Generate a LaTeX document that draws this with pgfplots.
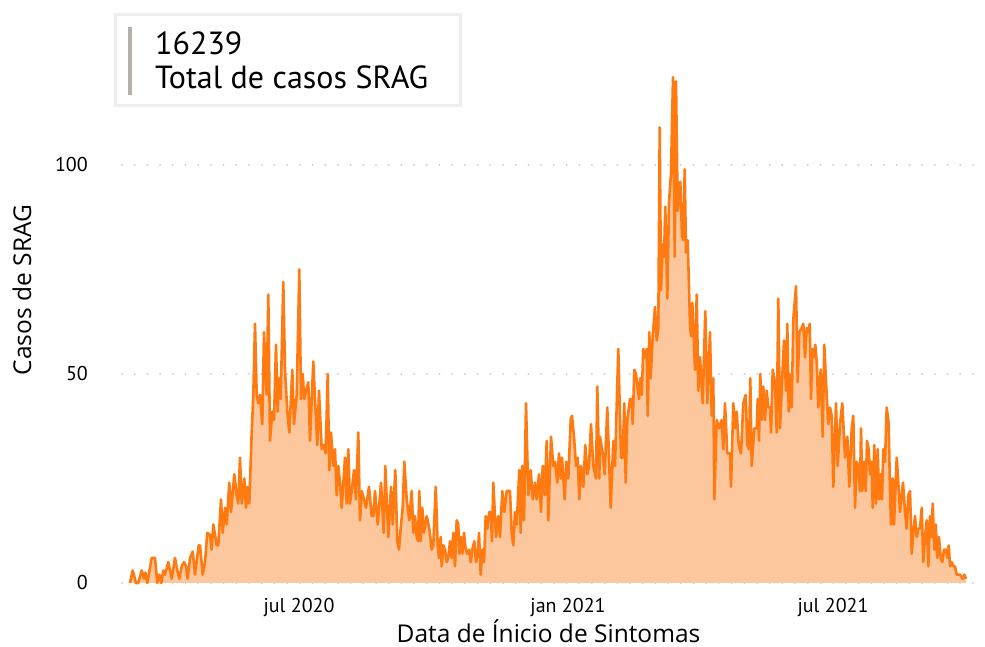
\documentclass[border=0pt]{standalone}
\usepackage{fontspec}
\setmainfont{PT Sans}
\newfontfamily\labelfont{Open Sans}
\usepackage{pgfplots}
\pgfplotsset{compat=1.18}
\usepackage{pgfplotstable}
\definecolor{lineC}{RGB}{255,122,16}
\definecolor{fillC}{RGB}{253,199,158}
\definecolor{gridC}{RGB}{200,200,200}
\definecolor{barC}{RGB}{181,176,171}
\definecolor{boxC}{RGB}{238,238,238}

% x = horizontal position (jul 2020 = 299, jan 2021 = 568, jul 2021 = 833), y = daily cases
\pgfplotstableread{
x y
130.0 0
132.7 3
136.0 0
138.3 0
141.7 3
144.0 1
145.3 2.5
147.3 0
151.7 6
155.0 6
157.3 0
159.3 2
161.3 0
163.3 3
165.0 2
168.3 5
171.7 1
175.0 6
177.3 3
179.3 1
181.7 4
184.0 5
186.0 4
187.7 1
190.0 6
192.7 7.5
195.0 2
198.7 9
200.0 9
202.7 2
205.0 5
207.3 12
210.0 11.5
211.7 8
213.3 14
216.7 9
218.3 9
221.0 20
222.7 12
225.0 18
226.7 14
229.3 24
231.0 17
234.3 26
236.7 21
238.3 19
240.0 30
241.7 19
244.3 25
246.0 18
247.7 23
249.3 19
251.7 36
253.3 45
255.0 62
256.7 45
258.3 43
260.0 45
262.3 38
264.0 60
266.7 45
268.3 69
270.0 34
272.3 41
274.0 39
276.0 57
277.7 41
279.0 49
280.7 44
283.3 72
285.0 51
287.3 41
289.3 36
292.3 51
294.0 38
296.7 45
299.3 75
301.0 44
302.7 50
304.3 44
306.0 46
308.3 48
310.0 34
313.3 53
315.0 44
317.3 33
319.0 46
321.7 32
324.0 33
325.7 31
327.7 50
329.3 27
331.0 36
333.3 28
335.0 32
336.7 21
338.3 28
340.0 24
341.7 18
345.0 30
346.7 19
348.3 32
350.0 19
351.7 22
354.0 27
356.0 20
358.3 36
360.0 15
361.7 22
364.0 20
366.0 18
369.0 23
371.7 16
373.3 16
375.0 22
377.7 14
381.0 24
383.7 12
385.3 28
388.3 11
391.0 23
392.7 14
395.3 27
397.3 10
399.0 8
401.0 14
402.7 18
404.3 29
406.7 20
409.3 15
411.7 22
413.3 12
415.0 16
416.7 11
418.0 10
419.3 22
420.7 10
422.3 18
424.0 12
426.7 16
429.3 13
431.7 8
433.3 9
435.7 23
437.7 9
439.0 6
440.7 11
441.7 4
443.3 9
445.0 8
446.7 5
448.3 6
450.0 10
451.7 6
453.3 12
455.0 4
456.7 15
458.3 14
459.3 7
461.0 11
462.3 7
464.0 12
465.7 8
467.3 7
469.0 8
470.7 5
472.3 8
474.3 10
476.0 5
477.7 7
479.0 12
480.7 2
482.3 8
484.0 5
485.7 16
487.3 13
489.3 17
490.7 17
492.0 10
493.3 24
496.0 11
498.3 16
500.0 11
502.3 22
504.3 17
506.7 22
510.0 22
511.7 12
513.3 9
515.0 17
516.7 14
519.3 27
520.7 12
522.3 28
524.0 15
526.0 43
528.3 21
530.7 27
532.7 20
535.0 24
536.7 20
539.0 26
541.0 17
542.7 28
544.7 21
546.7 34
548.3 15
551.0 35
553.3 28
555.0 29
557.3 24
559.0 31
560.7 25
562.0 30
563.3 25
564.7 20
566.3 29
568.3 25
570.7 39
572.0 40
574.0 35
576.0 28
577.7 30
579.3 20
581.0 28
583.3 23
585.3 33
587.3 26
589.0 28
591.0 38
593.3 28
596.0 25
597.3 47
599.3 25
600.0 35
602.7 31
604.7 26
607.3 42
610.7 18
613.3 34
615.0 28
618.3 56
621.0 30
622.7 30
624.3 43
625.7 24
627.3 39
630.0 44
631.7 44
632.7 38
634.3 51
636.0 50
639.0 44
640.3 49
641.7 45
643.3 56
645.0 54
646.7 56
647.7 40
649.3 60
650.7 49
652.7 59
655.0 66
656.7 58
658.3 61
659.7 109
661.0 70
662.7 81
664.0 78
665.3 90
667.3 68
669.0 91
671.0 98
673.0 121
674.7 78
676.0 120
677.7 89
680.3 96
682.0 83
683.3 82
684.7 99
686.0 79
687.7 82
690.0 62
691.0 59
692.3 67
695.0 51
696.7 69
698.3 46
700.0 54
702.7 43
705.3 65
707.3 43
710.0 60
711.7 40
713.3 49
714.3 20
716.7 39
719.3 37
721.7 39
723.3 32
725.0 43
727.3 31
730.0 31
731.0 23
733.3 43
735.0 37
736.7 41
738.7 33
741.0 31
743.3 43
745.7 45
747.3 33
749.0 32
750.3 49
751.7 28
754.3 37
756.7 37
757.7 44
759.0 34
760.3 50
761.7 39
763.3 47
765.0 39
766.7 46
768.3 42
770.0 42
771.0 36
772.7 51
775.0 48
776.7 36
778.3 68
780.0 37
782.0 48
784.0 58
786.0 46
787.3 62
788.7 41
790.0 50
791.7 42
793.3 63
796.0 71
797.7 48
799.3 60
801.7 61
803.3 62
805.0 54
806.7 61
808.3 60
809.7 62
811.0 44
812.3 56
813.7 54
815.3 57
816.7 53
818.3 42
820.7 51
822.7 35
824.3 57
826.0 48
828.3 38
830.0 42
831.7 40
833.3 23
836.0 43
837.7 28
840.0 38
842.3 43
845.0 30
847.3 35
849.3 23
851.7 37
853.3 40
855.0 18
856.7 29
858.3 28
860.0 22
861.0 37
862.3 22
864.0 29
865.7 22
867.0 34
868.7 32
870.0 26
871.7 29
872.7 18
874.3 33
876.0 19
877.7 32
879.0 20
880.7 26
882.0 20
883.3 32
885.0 29
886.7 42
888.7 38
890.0 22
891.0 14
892.7 25
894.0 14
896.7 30
898.3 24
900.0 17
901.7 21
903.0 24
905.0 17
906.7 13
908.3 21
910.0 22
911.7 7
913.3 12
915.0 16
916.7 11
918.3 13
920.0 13
921.7 18
923.3 5
925.0 11
926.7 15
928.3 4
930.0 16
931.7 11
932.7 19
934.3 8
935.7 14
937.3 6
939.0 11
940.7 6
942.3 5
944.0 8
946.0 8
947.3 6
948.7 9
950.0 4
951.7 5
953.3 4
955.0 4
956.7 2
960.0 2
962.7 1
964.3 2
966.0 1
}\srag

\begin{document}
\begin{tikzpicture}
\path[use as bounding box] (0,0) rectangle (985pt,647pt);
\begin{axis}[
  at={(122pt,64pt)}, anchor=south west,
  scale only axis, width=853pt, height=523pt,
  xmin=122, xmax=975, ymin=0, ymax=125.1,
  axis line style={draw=none},
  major tick length=0pt,
  xtick={299,568,833},
  xticklabels={jul 2020,jan 2021,jul 2021},
  ytick={0,50,100},
  ymajorgrids,
  grid style={gridC, line width=2pt, dash pattern=on 0pt off 12.7pt, line cap=round},
  xticklabel style={font=\fontsize{20}{24}\selectfont, anchor=base, inner sep=0pt, yshift=-30pt},
  yticklabel style={font=\fontsize{20}{24}\selectfont, anchor=east, inner sep=0pt, xshift=-34pt, /pgf/number format/assume math mode=true},
  clip=false,
]
\addplot[draw=none, fill=fillC] table[x=x,y=y]{\srag} \closedcycle;
\addplot[lineC, line width=2.6pt, line join=round] table[x=x,y=y]{\srag};
\end{axis}
\draw[boxC, line width=3pt, fill=white] (115.5pt,541.5pt) rectangle (460.5pt,632.5pt);
\fill[barC] (128pt,552pt) rectangle (132pt,620pt);
\node[anchor=base west, inner sep=0pt, font=\fontsize{32}{38}\selectfont] at (155pt,592pt) {16239};
\node[anchor=base west, inner sep=0pt, font=\fontsize{32}{38}\selectfont] at (155pt,558pt) {Total de casos SRAG};
\node[rotate=90, anchor=base, inner sep=0pt, font=\labelfont\fontsize{24.5}{29}\selectfont] at (31pt,357pt) {Casos de SRAG};
\node[anchor=base, inner sep=0pt, font=\labelfont\fontsize{24.5}{29}\selectfont] at (548.5pt,4pt) {Data de Ínicio de Sintomas};
\end{tikzpicture}
\end{document}
